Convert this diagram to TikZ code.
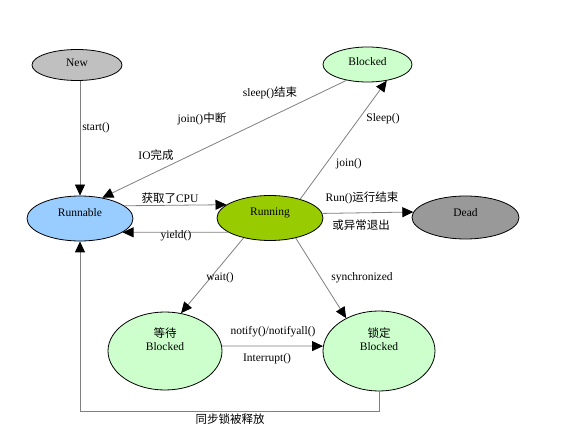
\documentclass[tikz,border=0pt]{standalone}
\usepackage{fontspec}
\setmainfont{Liberation Serif}
\newfontfamily\cjk{Noto Sans CJK SC}
\usetikzlibrary{shapes.geometric,arrows.meta}
\definecolor{newgray}{HTML}{C0C0C0}
\definecolor{blockgreen}{HTML}{CCFFCC}
\definecolor{runblue}{HTML}{99CCFF}
\definecolor{rungreen}{HTML}{99CC00}
\definecolor{deadgray}{HTML}{999999}
\definecolor{linegray}{HTML}{808080}
\begin{document}
\begin{tikzpicture}[x=1pt,y=-1pt,
  state/.style={ellipse, draw=black, line width=0.8pt, inner sep=0pt},
  txt/.style={font=\fontsize{11.5}{13}\selectfont, inner sep=0pt},
  conn/.style={draw=linegray, line width=0.8pt, -{Triangle[length=11pt,width=10pt,color=black]}},
  plain/.style={draw=linegray, line width=0.8pt}
]
\useasboundingbox[fill=white] (0,0) rectangle (565,438);

% states
\node[state, fill=newgray, minimum width=90pt, minimum height=31pt] (new) at (77,65) {};
\node[state, fill=blockgreen, minimum width=89pt, minimum height=35pt] (blocked) at (367.5,64.5) {};
\node[state, fill=runblue, minimum width=106pt, minimum height=45pt] (runnable) at (80,218.5) {};
\node[state, fill=rungreen, minimum width=106pt, minimum height=45pt] (running) at (270,218) {};
\node[state, fill=deadgray, minimum width=107pt, minimum height=43pt] (dead) at (465.5,217.5) {};
\node[state, fill=blockgreen, minimum width=114pt, minimum height=78pt] (wait) at (165,351) {};
\node[state, fill=blockgreen, minimum width=112pt, minimum height=80pt] (lock) at (379,351) {};

% state texts
\node[txt] (newt) at (77,63) {New};
\node[txt] (blockedt) at (367.5,62) {Blocked};
\node[txt] (runnablet) at (80,213) {Runnable};
\node[txt] (runningt) at (270,213) {Running};
\node[txt] (deadt) at (465.5,213) {Dead};
\node[txt] (waitt1) at (165,333) {\cjk 等待};
\node[txt] (waitt2) at (165,347) {Blocked};
\node[txt] (lockt1) at (379,333) {\cjk 锁定};
\node[txt] (lockt2) at (379,347) {Blocked};

% connectors
\draw[conn] (runnable |- new.south) -- (runnable.north);
\draw[conn] (blocked.-143) -- (runnable.43);
\draw[conn] (runnable.16.6) -- (running.163.4);
\draw[conn] (running.-161.6) -- (runnable.-18.4);
\draw[conn] (running.32) -- (blocked.-40);
\draw[conn] (running.5.5) -- (dead.174.5);
\draw[conn] (running.-143.7) -- (wait.67.5);
\draw[conn] (running.-38.2) -- (lock.135);
\draw[conn] (wait.5) -- (lock.175);
\coordinate (corner) at (80,411);
\draw[conn] (lock.south) |- (corner) -- (runnable.south);

% labels
\node[txt] (l1) at (96,128) {start()};
\node[txt] (l2) at (270,93) {sleep()\cjk 结束};
\node[txt] (l3) at (202,119) {join()\cjk 中断};
\node[txt] (l4) at (156,155) {IO\cjk 完成};
\node[txt] (l5) at (170,198) {{\cjk 获取了}CPU};
\node[txt] (l6) at (176,236) {yield()};
\node[txt] (l7) at (383,119) {Sleep()};
\node[txt] (l8) at (349,164) {join()};
\node[txt] (l9) at (362,198) {Run()\cjk 运行结束};
\node[txt] (l10) at (361,225) {\cjk 或异常退出};
\node[txt] (l11) at (220,278) {wait()};
\node[txt] (l12) at (362,278) {synchronized};
\node[txt] (l13) at (273,332) {notify()/notifyall()};
\node[txt] (l14) at (267,359) {Interrupt()};
\node[txt] (l15) at (230,419) {\cjk 同步锁被释放};
\end{tikzpicture}
\end{document}
